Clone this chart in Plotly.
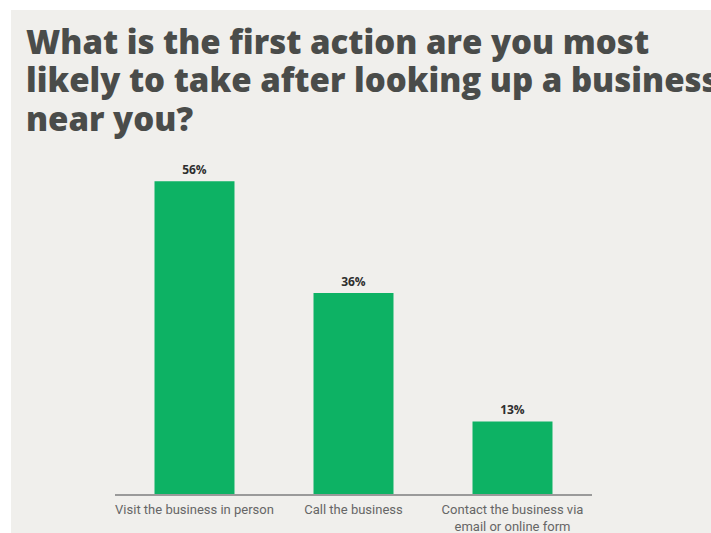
import plotly.graph_objects as go

categories = [
    "Visit the business in person",
    "Call the business",
    "Contact the business via<br>email or online form",
]
shares = [56, 36, 13]
value_labels = ["56%", "36%", "13%"]
title_lines = [
    "What is the first action are you most",
    "likely to take after looking up a business",
    "near you?",
]

W, H = 711, 533
ML, MR, MT, MB = 115, 119, 159, 39
BG = "#f0efec"
BAR = "#0db264"
TITLE_COLOR = "#4a4c4a"

plot_w = W - ML - MR
plot_h = H - MT - MB


def px_x(px):
    return (px - ML) / plot_w


def px_y(py):
    return (H - MB - py) / plot_h


fig = go.Figure(
    go.Bar(
        x=categories,
        y=shares,
        text=value_labels,
        textposition="outside",
        cliponaxis=False,
        textfont=dict(family="Open Sans", size=12, color="#2e2e2e", weight="bold"),
        marker=dict(color=BAR, line=dict(width=0)),
        hoverinfo="skip",
    )
)

# thin white strips along the top and left edges of the page
fig.add_shape(
    type="rect", xref="paper", yref="paper",
    x0=px_x(-5), x1=px_x(W + 5), y0=px_y(10), y1=px_y(-5),
    fillcolor="white", line=dict(width=0), layer="below",
)
fig.add_shape(
    type="rect", xref="paper", yref="paper",
    x0=px_x(-5), x1=px_x(11), y0=px_y(H + 5), y1=px_y(-5),
    fillcolor="white", line=dict(width=0), layer="below",
)

baselines = [55, 93, 132]
for line, base in zip(title_lines, baselines):
    fig.add_annotation(
        text=line,
        xref="paper", yref="paper",
        x=px_x(24),
        y=px_y(base),
        xanchor="left", yanchor="bottom",
        yshift=-11,
        showarrow=False,
        font=dict(family="Open Sans", size=33, color=TITLE_COLOR, weight=800),
        align="left",
    )

fig.update_layout(
    width=W, height=H,
    margin=dict(l=ML, r=MR, t=MT, b=MB, autoexpand=False),
    paper_bgcolor=BG,
    plot_bgcolor=BG,
    bargap=0.497,
    showlegend=False,
    xaxis=dict(
        range=[-0.5, 2.5],
        automargin=False,
        showline=True, linecolor="#9a9a9a", linewidth=2,
        showgrid=False, zeroline=False, ticks="",
        ticklabelstandoff=2,
        tickfont=dict(family="Roboto", size=13, color="#666666"),
        fixedrange=True,
    ),
    yaxis=dict(
        range=[0, 60],
        visible=False, showgrid=False, zeroline=False,
        automargin=False,
        fixedrange=True,
    ),
)

fig.write_html("out.html")
